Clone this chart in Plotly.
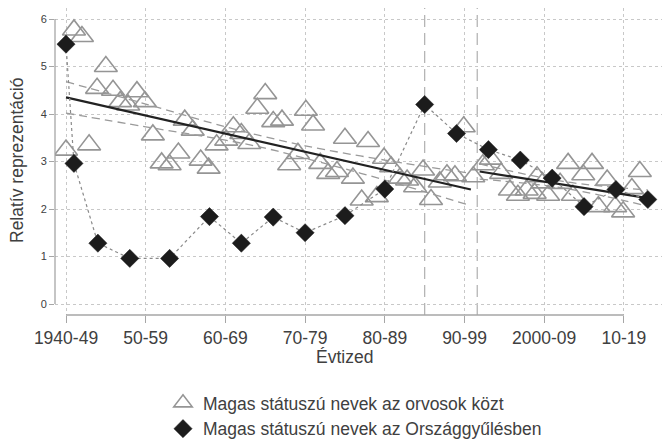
import plotly.graph_objects as go

# ---------------- data ----------------
doc_x = [1940.0, 1941.0, 1942.0, 1942.9, 1943.9, 1945.0, 1945.9, 1946.8, 1947.8, 1948.9,
         1949.9, 1950.9, 1952.0, 1953.0, 1954.1, 1954.9, 1955.9, 1956.9, 1957.9, 1958.9,
         1960.1, 1961.0, 1962.0, 1963.0, 1964.0, 1965.0, 1966.0, 1967.1, 1968.0, 1969.1,
         1970.1, 1971.0, 1971.9, 1972.9, 1974.0, 1975.0, 1976.0, 1977.1, 1977.9, 1979.0,
         1979.9, 1980.8, 1981.9, 1982.8, 1983.8, 1984.8, 1985.8, 1986.9, 1987.8, 1988.8,
         1989.9, 1991.1, 1992.3, 1993.3, 1994.6, 1995.7, 1996.7, 1997.8, 1998.8, 1999.1,
         1999.8, 2000.5, 2002.0, 2003.0, 2003.6, 2004.9, 2006.0, 2006.8, 2007.9, 2008.9,
         2009.9, 2011.0, 2012.0]
doc_y = [3.24, 5.77, 5.63, 3.35, 4.54, 5.00, 4.50, 4.26, 4.19, 4.47,
         4.26, 3.56, 2.97, 2.93, 3.18, 3.87, 3.66, 3.03, 2.86, 3.35,
         3.45, 3.73, 3.59, 3.38, 4.12, 4.43, 3.84, 3.87, 2.93, 3.17,
         4.08, 3.77, 2.96, 2.75, 2.79, 3.49, 2.65, 2.19, 3.42, 2.26,
         3.07, 2.89, 2.65, 2.61, 2.47, 2.82, 2.20, 2.57, 2.72, 2.70,
         3.73, 2.68, 2.93, 3.05, 2.75, 2.40, 2.29, 2.40, 2.33, 2.68,
         2.55, 2.29, 2.54, 2.96, 2.29, 2.72, 2.96, 2.05, 2.61, 2.05,
         1.94, 2.43, 2.79]

parl_x = [1940, 1941, 1944, 1948, 1953, 1958, 1962, 1966, 1970, 1975,
          1980, 1985, 1989, 1993, 1997, 2001, 2005, 2009, 2013]
parl_y = [5.47, 2.96, 1.28, 0.96, 0.96, 1.84, 1.28, 1.83, 1.50, 1.86,
          2.42, 4.20, 3.59, 3.25, 3.03, 2.65, 2.05, 2.41, 2.20]

# fitted line + confidence band, period 1
fit1_x = [1940, 1950, 1960, 1965, 1970, 1980, 1990.8]
fit1_y = [4.35, 3.97, 3.59, 3.40, 3.20, 2.82, 2.41]
ci1_hi = [4.68, 4.21, 3.73, 3.52, 3.33, 3.03, 2.75]
ci1_lo = [4.02, 3.73, 3.45, 3.28, 3.07, 2.61, 2.07]

# fitted line + confidence band, period 2
fit2_x = [1991.9, 2002.4, 2013.0]
fit2_y = [2.79, 2.51, 2.23]
ci2_hi = [2.95, 2.58, 2.40]
ci2_lo = [2.63, 2.44, 2.06]

break_years = [1985.0, 1991.6]

tick_vals = [1940, 1950, 1960, 1970, 1980, 1990, 2000, 2010]
tick_text = ["1940-49", "50-59", "60-69", "70-79", "80-89", "90-99", "2000-09", "10-19"]
y_ticks = [0, 1, 2, 3, 4, 5, 6]

x_title = "Évtized"
y_title = "Relatív reprezentáció"
name_doc = "Magas státuszú nevek az orvosok közt"
name_parl = "Magas státuszú nevek az Országgyűlésben"

# ---------------- styling ----------------
FONT = "Liberation Sans, Arial, sans-serif"
TXT = "#404040"
AXC = "#a6a6a6"
GRID = "#c8c8c8"

# the page adds an 8px body margin; lay the figure out in window pixels minus 8
OFF = 8
W, H = 670 - OFF, 441 - OFF
ML, MR, MT = 55 - OFF, 0, 8 - OFF
PLOT_BOTTOM = 315 - OFF
MB = H - PLOT_BOTTOM
plot_w = W - ML - MR
plot_h = H - MT - MB


def py(win_y):
    """window pixel y -> paper y"""
    return (PLOT_BOTTOM - (win_y - OFF)) / plot_h


def px(win_x):
    """window pixel x -> paper x"""
    return ((win_x - OFF) - ML) / plot_w


PX_PER_YEAR = 7.97
PX_PER_UNIT = 47.5
X0_WIN = 66   # window x of 1940
Y0_WIN = 304  # window y of value 0

fig = go.Figure()

# doctors: hollow triangles
fig.add_trace(go.Scatter(
    x=doc_x, y=doc_y, mode="markers", name=name_doc,
    marker=dict(symbol="triangle-up-open", size=20, color="#959595",
                line=dict(width=1.6, color="#959595")),
))

# confidence bands
for cx, hi, lo in [(fit1_x, ci1_hi, ci1_lo), (fit2_x, ci2_hi, ci2_lo)]:
    for arr in (hi, lo):
        fig.add_trace(go.Scatter(
            x=cx, y=arr, mode="lines", showlegend=False, hoverinfo="skip",
            line=dict(color="#9a9a9a", width=1.3, dash="8px,5px", shape="spline"),
        ))

# fitted lines
for fx, fy in [(fit1_x, fit1_y), (fit2_x, fit2_y)]:
    fig.add_trace(go.Scatter(
        x=fx, y=fy, mode="lines", showlegend=False, hoverinfo="skip",
        line=dict(color="#222222", width=2.2),
    ))

# parliament: dotted connector + diamonds
fig.add_trace(go.Scatter(
    x=parl_x, y=parl_y, mode="lines", showlegend=False, hoverinfo="skip",
    line=dict(color="#8a8a8a", width=1.2, dash="dot"),
))
fig.add_trace(go.Scatter(
    x=parl_x, y=parl_y, mode="markers", name=name_parl,
    marker=dict(symbol="diamond", size=14, color="#1c1c1c",
                line=dict(width=0.5, color="#1c1c1c")),
))

shapes = []
# vertical dashed break lines
for bx in break_years:
    shapes.append(dict(type="line", xref="x", yref="paper", x0=bx, x1=bx, y0=0.0, y1=1.0,
                       line=dict(color="#b5b5b5", width=1.3, dash="12px,6px"), layer="below"))
# Stata-style offset axis lines
shapes.append(dict(type="line", xref="paper", yref="y", x0=0, x1=0, y0=0, y1=6,
                   line=dict(color=AXC, width=1.3)))
shapes.append(dict(type="line", xref="x", yref="paper", x0=1940, x1=2010, y0=0, y1=0,
                   line=dict(color=AXC, width=1.3)))

fig.update_layout(
    width=W, height=H,
    margin=dict(l=ML, r=MR, t=MT, b=MB, autoexpand=False),
    paper_bgcolor="white", plot_bgcolor="white",
    font=dict(family=FONT, color=TXT),
    shapes=shapes,
    showlegend=True,
    legend=dict(x=px(163), xanchor="left", y=py(385), yanchor="top",
                font=dict(size=17.5, color=TXT, family=FONT),
                bgcolor="rgba(0,0,0,0)", borderwidth=0, itemsizing="trace"),
    annotations=[
        dict(text=x_title, x=1975, xref="x", y=py(357), yref="paper",
             showarrow=False, yanchor="middle", xanchor="center",
             font=dict(size=17.5, color=TXT, family=FONT)),
        dict(text=y_title, x=px(17), y=py(161),
             xref="paper", yref="paper", showarrow=False, textangle=-90,
             xanchor="center", yanchor="middle",
             font=dict(size=17.5, color=TXT, family=FONT)),
    ],
)

x_left_win = 55
x_right_win = 670
y_top_win = 8
y_bot_win = 315
fig.update_xaxes(
    range=[1940 + (x_left_win - X0_WIN) / PX_PER_YEAR, 1940 + (x_right_win - X0_WIN) / PX_PER_YEAR],
    tickvals=tick_vals, ticktext=tick_text,
    ticks="outside", ticklen=7, tickcolor=AXC, tickwidth=1.3,
    tickfont=dict(size=17.5, color=TXT, family=FONT),
    showgrid=True, gridcolor=GRID, griddash="dot", gridwidth=1,
    zeroline=False, showline=False, automargin=False,
)
fig.update_yaxes(
    range=[(Y0_WIN - y_bot_win) / PX_PER_UNIT, (Y0_WIN - y_top_win) / PX_PER_UNIT],
    tickvals=y_ticks,
    ticks="outside", ticklen=5, tickcolor=AXC, tickwidth=1.3,
    tickfont=dict(size=11, color=TXT, family=FONT),
    showgrid=True, gridcolor=GRID, griddash="dot", gridwidth=1,
    zeroline=False, showline=False, automargin=False,
)

fig.write_html("out.html")
